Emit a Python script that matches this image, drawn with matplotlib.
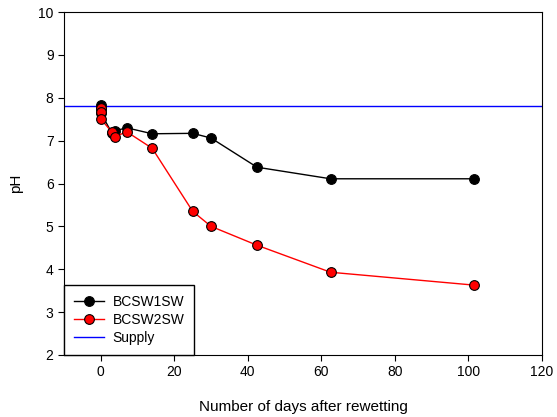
import matplotlib
matplotlib.use("Agg")
import matplotlib.pyplot as plt

plt.rcParams['font.family'] = ['Liberation Sans', 'DejaVu Sans']

days1 = [0, 0, 0, 3, 4, 7, 14, 25, 30, 42.5, 62.5, 101.5]
ph1 = [7.83, 7.73, 7.65, 7.18, 7.23, 7.30, 7.16, 7.17, 7.06, 6.38, 6.11, 6.11]
days2 = [0, 0, 0, 3, 4, 7, 14, 25, 30, 42.5, 62.5, 101.5]
ph2 = [7.77, 7.66, 7.51, 7.20, 7.09, 7.21, 6.82, 5.35, 5.00, 4.56, 3.93, 3.63]
supply = 7.8

fig = plt.figure(figsize=(5.57, 4.17), dpi=100)
ax = fig.add_axes([0.1149, 0.1487, 0.973 - 0.1149, 0.9712 - 0.1487])

ax.plot(days1, ph1, color='black', lw=1, marker='o', ms=7, mfc='black', mec='black', mew=0.8, label='BCSW1SW', zorder=3)
ax.plot(days2, ph2, color='red', lw=1, marker='o', ms=7, mfc='red', mec='black', mew=0.8, label='BCSW2SW', zorder=4)
ax.axhline(supply, color='blue', lw=1, label='Supply', zorder=2)

ax.set_xlim(-10, 120)
ax.set_ylim(2, 10)
ax.set_xticks([0, 20, 40, 60, 80, 100, 120])
ax.set_yticks([2, 3, 4, 5, 6, 7, 8, 9, 10])
ax.tick_params(direction='out', length=4, labelsize=10, top=False, right=False)
ax.set_xlabel('Number of days after rewetting', fontsize=11, labelpad=15)
ax.set_ylabel('pH', fontsize=11, labelpad=11)

leg = ax.legend(loc='lower left', bbox_to_anchor=(0, 0), borderaxespad=0, fancybox=False,
                edgecolor='black', fontsize=10, handlelength=2.2, handletextpad=0.6,
                labelspacing=0.3, borderpad=0.7, framealpha=1)
leg.get_frame().set_linewidth(1)

fig.savefig('out.png', dpi=100)
